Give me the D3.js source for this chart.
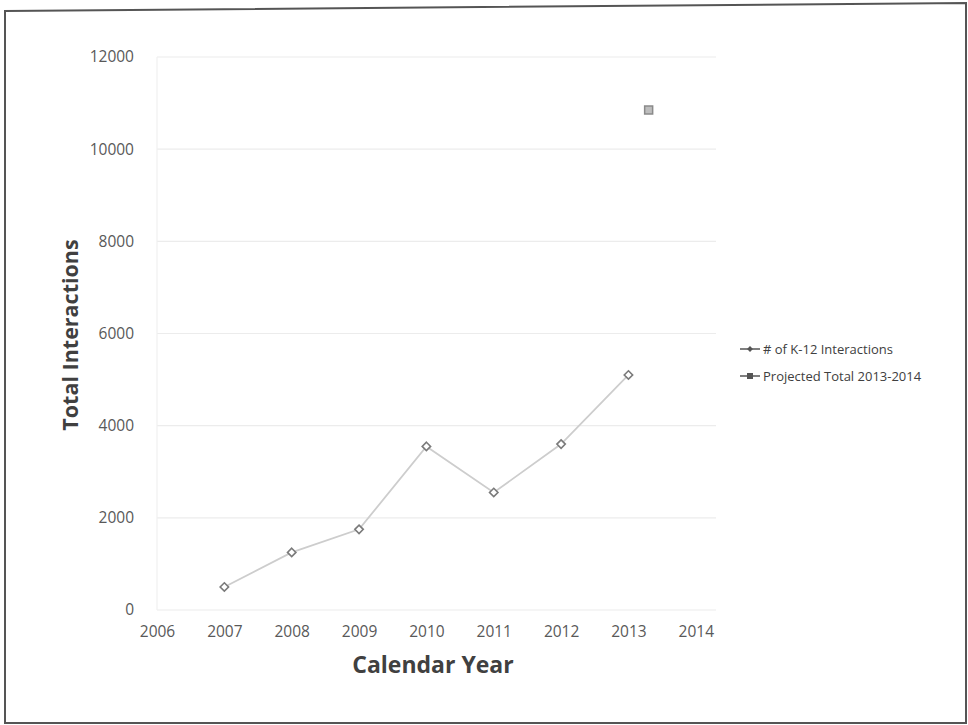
<!DOCTYPE html>
<html><head><meta charset="utf-8">
<script src="https://cdn.jsdelivr.net/npm/d3@7"></script>
<style>body{margin:0;background:#fff}svg{display:block}</style>
</head><body>
<svg id="c" width="968" height="725"></svg>
<script>
const years = [2007, 2008, 2009, 2010, 2011, 2012, 2013];
const interactions = [500, 1250, 1750, 3550, 2550, 3600, 5100];
const projectedX = [2013.3];
const projectedY = [10850];
const xTicks = [2006, 2007, 2008, 2009, 2010, 2011, 2012, 2013, 2014];
const yTicks = [0, 2000, 4000, 6000, 8000, 10000, 12000];
const seriesNames = ["# of K-12 Interactions", "Projected Total 2013-2014"];

const svg = d3.select("#c");
const font = "'Open Sans', 'Liberation Sans', sans-serif";

// frame
svg.append("path").attr("d","M5,11 L966,3 L966,723 L5,723 Z")
  .attr("fill","none").attr("stroke","#555").attr("stroke-width",2);

const x = d3.scaleLinear().domain([2006, 2014.3]).range([157, 716]);
const y = d3.scaleLinear().domain([0, 12000]).range([610, 57]);

// gridlines
svg.append("g").selectAll("line").data(yTicks.filter(d=>d>0)).join("line")
  .attr("x1", x(2006)).attr("x2", x(2014.3))
  .attr("y1", d=>y(d)).attr("y2", d=>y(d))
  .attr("stroke","#ececec").attr("stroke-width",1.2);
svg.append("line").attr("x1",x(2006)).attr("x2",x(2014.3)).attr("y1",y(0)).attr("y2",y(0))
  .attr("stroke","#ececec").attr("stroke-width",1.2);
svg.append("line").attr("x1",x(2006)).attr("x2",x(2006)).attr("y1",y(0)).attr("y2",y(12000))
  .attr("stroke","#f0f0f0").attr("stroke-width",1.2);

// y axis
const yAxis = d3.axisLeft(y).tickValues(yTicks).tickSize(0).tickPadding(23).tickFormat(d3.format("d"));
const gy = svg.append("g").attr("transform",`translate(${x(2006)},0)`).call(yAxis);
gy.select(".domain").remove();
gy.selectAll("text").attr("fill","#595959").style("font-family",font).style("font-size","15.5px");

// x axis
const xAxis = d3.axisBottom(x).tickValues(xTicks).tickSize(0).tickPadding(16).tickFormat(d3.format("d"));
const gx = svg.append("g").attr("transform",`translate(0,${y(0)})`).call(xAxis);
gx.select(".domain").remove();
gx.selectAll("text").attr("fill","#595959").style("font-family",font).style("font-size","15.5px");

// axis titles
svg.append("text").attr("transform","translate(78,335) rotate(-90)")
  .attr("text-anchor","middle").attr("fill","#404040")
  .style("font-family",font).style("font-size","21.5px").style("font-weight","bold")
  .text("Total Interactions");
svg.append("text").attr("x",433).attr("y",673)
  .attr("text-anchor","middle").attr("fill","#404040")
  .style("font-family",font).style("font-size","23px").style("font-weight","bold")
  .text("Calendar Year");

// line series
const pts = years.map((yr,i)=>[yr, interactions[i]]);
svg.append("path").datum(pts)
  .attr("fill","none").attr("stroke","#cdcdcd").attr("stroke-width",1.8)
  .attr("d", d3.line().x(d=>x(d[0])).y(d=>y(d[1])));
svg.append("g").selectAll("path").data(pts).join("path")
  .attr("transform", d=>`translate(${x(d[0])},${y(d[1])})`)
  .attr("d", d3.symbol(d3.symbolDiamond2, 45)())
  .attr("fill","#fff").attr("stroke","#7a7a7a").attr("stroke-width",1.6);

// projected
const proj = projectedX.map((v,i)=>[v, projectedY[i]]);
svg.append("g").selectAll("path").data(proj).join("path")
  .attr("transform", d=>`translate(${x(d[0])},${y(d[1])})`)
  .attr("d", d3.symbol(d3.symbolSquare, 64)())
  .attr("fill","#bdbdbd").attr("stroke","#8a8a8a").attr("stroke-width",1.5);

// legend
const lg = svg.append("g").attr("transform","translate(740,349)");
seriesNames.forEach((name,i)=>{
  const g = lg.append("g").attr("transform",`translate(0,${i*27})`);
  g.append("line").attr("x1",0).attr("x2",20).attr("y1",0).attr("y2",0)
    .attr("stroke","#555").attr("stroke-width",1.5);
  g.append("path").attr("transform","translate(10,0)")
    .attr("d", i===0 ? d3.symbol(d3.symbolDiamond2, 22)() : d3.symbol(d3.symbolSquare, 36)())
    .attr("fill","#555");
  g.append("text").attr("x",23).attr("y",4.5)
    .attr("fill","#404040").style("font-family",font).style("font-size","13px")
    .text(name);
});
</script>
</body></html>
